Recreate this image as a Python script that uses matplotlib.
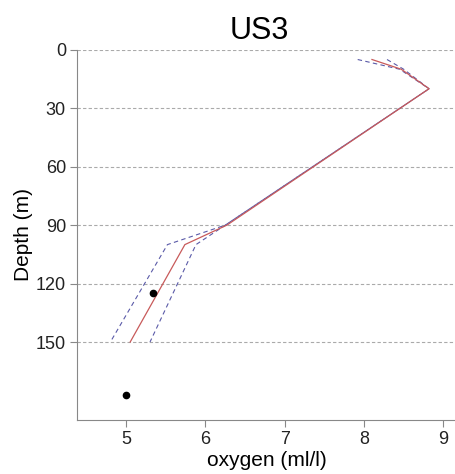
import matplotlib.pyplot as plt

plt.rcParams['font.family'] = ['Liberation Sans', 'DejaVu Sans']

depth = [5, 10, 20, 90, 100, 150]
oxy_mean = [8.10, 8.47, 8.82, 6.27, 5.74, 5.05]
oxy_low = [7.92, 8.45, 8.82, 6.25, 5.52, 4.80]
oxy_high = [8.29, 8.50, 8.82, 6.25, 5.88, 5.30]

obs_oxy = [5.34, 5.0]
obs_depth = [125, 177]

fig = plt.figure(figsize=(4.56, 4.74), dpi=100)
ax = fig.add_axes([0.169, 0.114, 0.831, 0.781])

for y in [0, 30, 60, 90, 120, 150]:
    ax.axhline(y, color='#aaaaaa', lw=0.8, ls=(0, (3, 2)), zorder=0)

ax.plot(oxy_low, depth, color='#5a5aa8', lw=0.8, ls=(0, (4, 3)))
ax.plot(oxy_high, depth, color='#5a5aa8', lw=0.8, ls=(0, (4, 3)))
ax.plot(oxy_mean, depth, color='#c85a5a', lw=0.9)
ax.plot(obs_oxy, obs_depth, 'o', color='black', ms=4.5)

ax.set_xlim(4.38, 9.16)
ax.set_ylim(190, 0)
ax.set_yticks([0, 30, 60, 90, 120, 150])
ax.set_xticks([5, 6, 7, 8, 9])

for s in ['top', 'right']:
    ax.spines[s].set_visible(False)
for s in ['left', 'bottom']:
    ax.spines[s].set_color('#888888')
ax.tick_params(labelsize=13, colors='#222222', length=5, color='#888888', pad=3)

ax.set_xlabel('oxygen (ml/l)', fontsize=15, labelpad=2)
ax.set_ylabel('Depth (m)', fontsize=15, labelpad=2)
ax.set_title('US3', fontsize=22, pad=8, x=0.48)

fig.savefig('out.png', dpi=100)
